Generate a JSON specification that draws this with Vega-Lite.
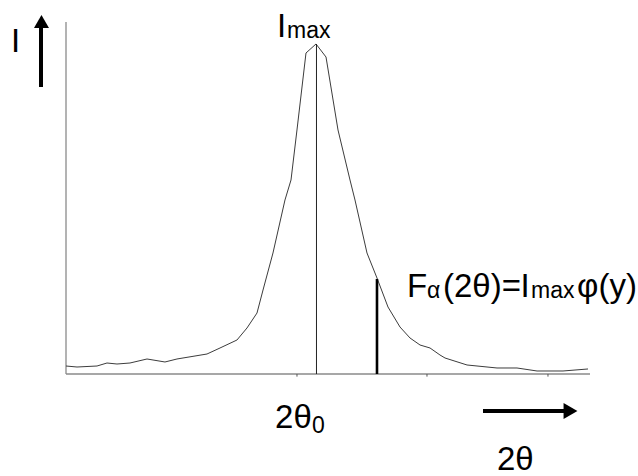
{
  "$schema": "https://vega.github.io/schema/vega-lite/v6.json",
  "width": 638,
  "height": 476,
  "autosize": {"type": "none"},
  "padding": 0,
  "background": "white",
  "config": {"view": {"stroke": null}, "text": {"font": "Liberation Sans", "color": "black"}},
  "encoding": {
    "x": {"field": "x", "type": "quantitative", "scale": {"domain": [-12.595, 109.16], "nice": false, "zero": false}, "axis": null},
    "y": {"field": "y", "type": "quantitative", "scale": {"domain": [-30.909, 113.333], "nice": false, "zero": false}, "axis": null}
  },
  "layer": [
    {
      "data": {"values": [
        {"x": 0, "y": 0, "x2": 0, "y2": 106.67},
        {"x": 0, "y": 0, "x2": 100, "y2": 0}
      ]},
      "mark": {"type": "rule", "color": "#8a8a8a", "strokeWidth": 1.3},
      "encoding": {"x2": {"field": "x2"}, "y2": {"field": "y2"}}
    },
    {
      "data": {"values": [
        {"x": 44.08, "y": 0, "y2": -0.8},
        {"x": 68.89, "y": 0, "y2": -0.8},
        {"x": 91.98, "y": 0, "y2": -0.8}
      ]},
      "mark": {"type": "rule", "color": "#555555", "strokeWidth": 1},
      "encoding": {"y2": {"field": "y2"}}
    },
    {
      "data": {"values": [
        {"x": 0, "y": 2.42}, {"x": 2.10, "y": 2.12}, {"x": 5.92, "y": 2.42}, {"x": 7.82, "y": 3.33},
        {"x": 9.73, "y": 3.03}, {"x": 12.21, "y": 3.33}, {"x": 15.46, "y": 4.55}, {"x": 18.89, "y": 3.64},
        {"x": 21.18, "y": 4.55}, {"x": 26.91, "y": 6.06}, {"x": 29.39, "y": 7.88}, {"x": 32.63, "y": 10.30},
        {"x": 34.54, "y": 13.94}, {"x": 36.45, "y": 18.48}, {"x": 37.60, "y": 25.45}, {"x": 39.50, "y": 36.67},
        {"x": 41.79, "y": 52.73}, {"x": 42.94, "y": 58.79}, {"x": 44.08, "y": 73.94}, {"x": 45.80, "y": 97.27},
        {"x": 47.71, "y": 100}, {"x": 49.62, "y": 96.06}, {"x": 51.91, "y": 73.94}, {"x": 54.20, "y": 58.79},
        {"x": 55.15, "y": 52.73}, {"x": 57.44, "y": 36.67}, {"x": 59.35, "y": 29.09}, {"x": 61.45, "y": 20.30},
        {"x": 63.74, "y": 14.24}, {"x": 65.65, "y": 10.91}, {"x": 67.56, "y": 8.79}, {"x": 69.47, "y": 7.88},
        {"x": 71.37, "y": 5.76}, {"x": 72.33, "y": 4.85}, {"x": 76.53, "y": 2.73}, {"x": 82.25, "y": 1.82},
        {"x": 86.07, "y": 1.82}, {"x": 89.89, "y": 0.91}, {"x": 94.85, "y": 0.91}, {"x": 99.62, "y": 1.52}
      ]},
      "mark": {"type": "line", "color": "#3c3c3c", "strokeWidth": 1}
    },
    {
      "data": {"values": [{"x": 47.8, "y": 0, "y2": 100}]},
      "mark": {"type": "rule", "color": "#222222", "strokeWidth": 1},
      "encoding": {"y2": {"field": "y2"}}
    },
    {
      "data": {"values": [{"x": 59.35, "y": 0, "y2": 28.79}]},
      "mark": {"type": "rule", "color": "black", "strokeWidth": 2.6},
      "encoding": {"y2": {"field": "y2"}}
    },
    {
      "data": {"values": [
        {"x": -4.77, "y": 86.97, "x2": -4.77, "y2": 105.76},
        {"x": 79.58, "y": -11.21, "x2": 95.42, "y2": -11.21}
      ]},
      "mark": {"type": "rule", "color": "black", "strokeWidth": 4},
      "encoding": {"x2": {"field": "x2"}, "y2": {"field": "y2"}}
    },
    {
      "data": {"values": [{"x": -4.68, "y": 106.82}]},
      "mark": {"type": "point", "shape": "triangle-up", "size": 225, "filled": true, "color": "black", "opacity": 1}
    },
    {
      "data": {"values": [{"x": 96.28, "y": -11.21}]},
      "mark": {"type": "point", "shape": "triangle-right", "size": 256, "filled": true, "color": "black", "opacity": 1}
    },
    {
      "data": {"values": [
        {"x": -10.50, "y": 97.58, "label": "I"},
        {"x": 40.27, "y": 102.12, "label": "I"},
        {"x": 65.08, "y": 23.33, "label": "F"},
        {"x": 71.95, "y": 23.33, "label": "(2θ)="},
        {"x": 86.74, "y": 23.33, "label": "I"},
        {"x": 97.52, "y": 23.33, "label": "φ(y)"},
        {"x": 39.89, "y": -16.36, "label": "2θ"},
        {"x": 82.25, "y": -29.09, "label": "2θ"}
      ]},
      "mark": {"type": "text", "fontSize": 33, "align": "left", "baseline": "alphabetic"},
      "encoding": {"text": {"field": "label"}}
    },
    {
      "data": {"values": [
        {"x": 42.18, "y": 101.82, "label": "max"},
        {"x": 68.89, "y": 23.0, "label": "α"},
        {"x": 88.74, "y": 23.0, "label": "max"},
        {"x": 46.95, "y": -17.88, "label": "0"}
      ]},
      "mark": {"type": "text", "fontSize": 23, "align": "left", "baseline": "alphabetic"},
      "encoding": {"text": {"field": "label"}}
    }
  ]
}
